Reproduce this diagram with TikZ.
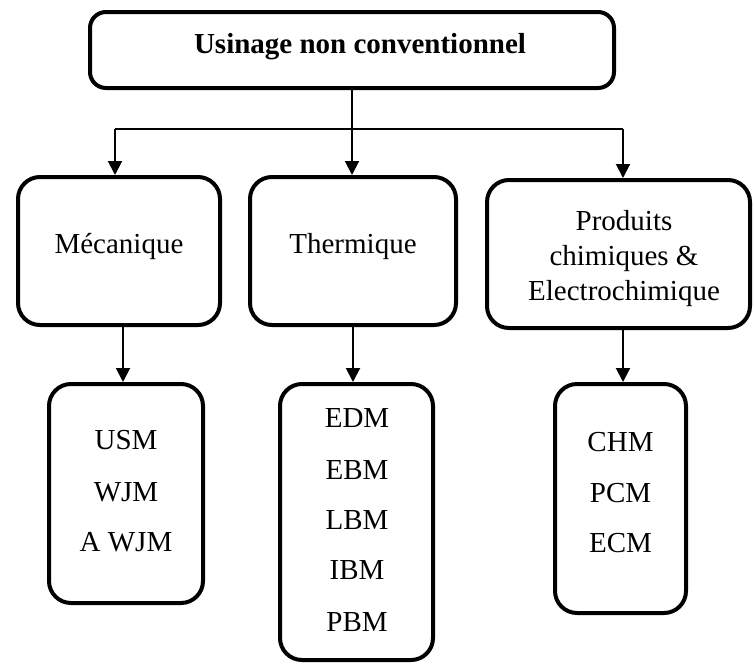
\documentclass[tikz,border=0pt]{standalone}
\usepackage{fontspec}
\setmainfont{Liberation Serif}
\usetikzlibrary{arrows.meta}
\begin{document}
\begin{tikzpicture}[x=1pt,y=-1pt,
  box/.style={draw, line width=4pt, rounded corners=22pt, inner sep=0pt},
  txt/.style={font=\fontsize{29}{34}\selectfont, inner sep=0pt, anchor=base},
  bus/.style={line width=2pt},
  link/.style={line width=2pt, -{Triangle[length=14pt,width=14pt]}}]
\useasboundingbox (0,0) rectangle (754,664);

% frames
\node[box, rounded corners=16pt, minimum width=524pt, minimum height=76pt] (top) at (352,50) {};
\node[box, minimum width=202pt, minimum height=148pt] (meca) at (119,251) {};
\node[box, minimum width=206pt, minimum height=148pt] (therm) at (353,251) {};
\node[box, minimum width=263pt, minimum height=148pt] (prod) at (618.5,254) {};
\node[box, minimum width=154pt, minimum height=219pt] (usmbox) at (126,493.5) {};
\node[box, minimum width=153pt, minimum height=276pt] (edmbox) at (356.5,522) {};
\node[box, minimum width=131pt, minimum height=229pt] (chmbox) at (620.5,498.5) {};

% labels
\node[txt, font=\fontsize{29}{34}\selectfont\bfseries] (ttop) at (360,53) {Usinage non conventionnel};
\node[txt] (tmeca) at (119,253) {Mécanique};
\node[txt] (ttherm) at (353,253) {Thermique};
\node[txt] (tprod1) at (624,230) {Produits};
\node[txt] (tprod2) at (624,265) {chimiques \&};
\node[txt] (tprod3) at (624,300) {Electrochimique};

\node[txt] (usm) at (126,449) {USM};
\node[txt] (wjm) at (126,501) {WJM};
\node[txt] (awjm) at (126,551) {A WJM};

\node[txt] (edm) at (357,427) {EDM};
\node[txt] (ebm) at (357,479) {EBM};
\node[txt] (lbm) at (357,529) {LBM};
\node[txt] (ibm) at (357,579) {IBM};
\node[txt] (pbm) at (357,631) {PBM};

\node[txt] (chm) at (620.5,451) {CHM};
\node[txt] (pcm) at (620.5,502) {PCM};
\node[txt] (ecm) at (620.5,552) {ECM};

% distribution bus
\coordinate (busL) at (115,129);
\coordinate (busM) at (352,129);
\coordinate (busR) at (623,129);
\draw[bus] (top.south) -- (busM);
\draw[bus] (busL) -- (busR);
\draw[link] (busL) -- (busL |- meca.north);
\draw[link] (busM) -- (busM |- therm.north);
\draw[link] (busR) -- (busR |- prod.north);

% category to processes
\coordinate (dl) at (123,0);
\coordinate (dr) at (623,0);
\draw[link] (dl |- meca.south) -- (dl |- usmbox.north);
\draw[link] (therm.south) -- (therm.south |- edmbox.north);
\draw[link] (dr |- prod.south) -- (dr |- chmbox.north);
\end{tikzpicture}
\end{document}
